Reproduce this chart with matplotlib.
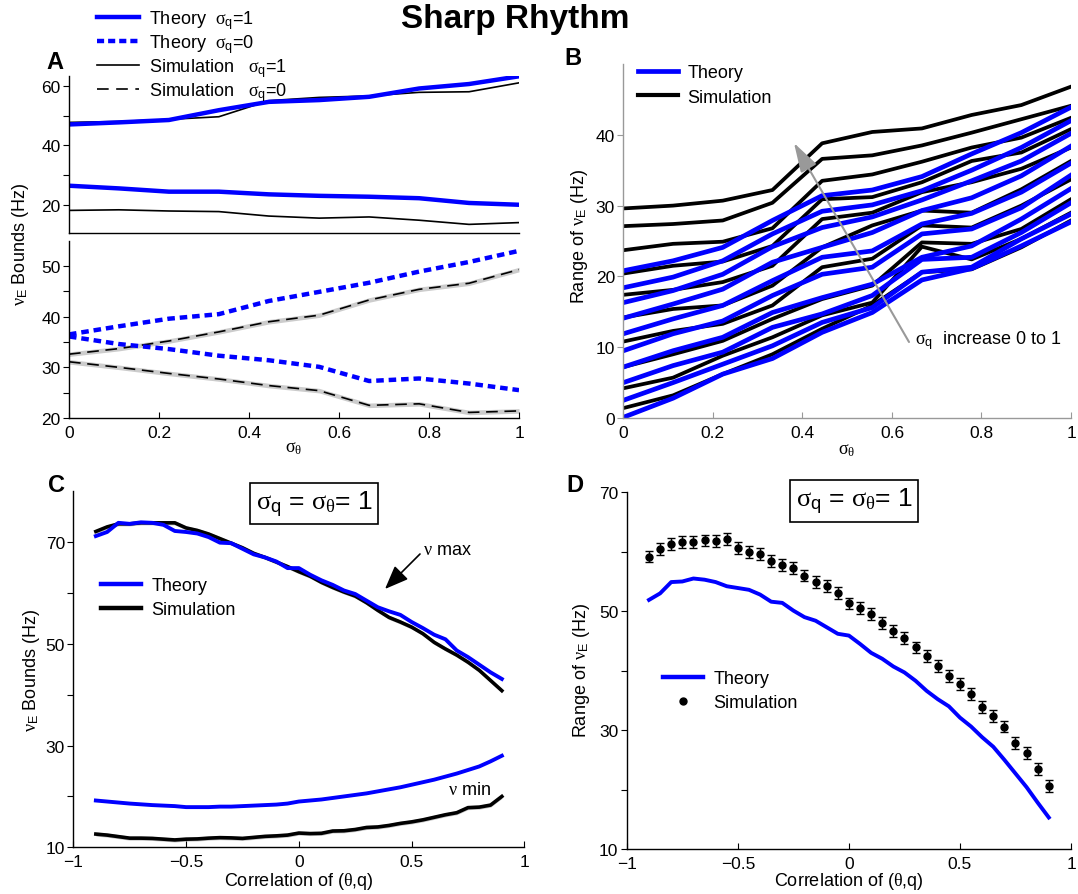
import matplotlib
matplotlib.use("Agg")
import matplotlib.pyplot as plt
import numpy as np
from matplotlib.lines import Line2D

plt.rcParams['font.family'] = 'Liberation Sans'
plt.rcParams['font.size'] = 12.5
plt.rcParams['mathtext.fontset'] = 'custom'
plt.rcParams['mathtext.rm'] = 'Liberation Sans'
plt.rcParams['mathtext.it'] = 'Liberation Serif'
plt.rcParams['mathtext.bf'] = 'Liberation Sans:bold'

W, H = 1078, 895
BLUE = '#0000ff'

# ---- panel A / B: sigma_theta grid ----
sig_theta = [0, 0.111, 0.222, 0.333, 0.444, 0.556, 0.667, 0.778, 0.889, 1.0]

a_theory1_hi = [47.0, 47.7, 48.5, 51.8, 54.6, 55.2, 56.3, 59.1, 60.6, 63.2]
a_theory1_lo = [26.4, 25.5, 24.4, 24.4, 23.5, 23.0, 22.7, 22.2, 20.6, 20.0]
a_sim1_hi = [47.7, 48.0, 48.7, 49.6, 55.0, 56.1, 56.6, 57.8, 58.0, 61.0]
a_sim1_lo = [18.1, 18.3, 17.9, 17.7, 16.2, 15.5, 15.9, 14.8, 13.4, 14.0]

a_theory0_hi = [36.5, 38.1, 39.6, 40.5, 43.1, 44.9, 46.7, 48.9, 50.8, 53.0]
a_theory0_lo = [36.1, 34.6, 33.6, 32.3, 31.4, 30.1, 27.3, 27.8, 26.8, 25.5]
a_sim0_hi = [32.6, 33.7, 35.2, 37.0, 39.0, 40.3, 43.3, 45.4, 46.6, 49.3]
a_sim0_lo = [31.1, 30.0, 28.8, 27.7, 26.4, 25.4, 22.5, 22.8, 21.1, 21.4]

# panel B: one list per sigma_theta value, curves for sigma_q = 0 ... 1 (ascending)
b_theory_cols = [
    [0.1, 2.5, 5.0, 7.2, 9.5, 11.9, 14.1, 16.3, 18.4, 20.8],
    [2.8, 5.0, 7.4, 9.5, 11.9, 14.0, 16.1, 18.0, 19.9, 22.2],
    [6.2, 7.6, 9.3, 11.4, 13.7, 15.9, 18.2, 20.3, 22.2, 24.1],
    [8.4, 10.2, 12.8, 14.9, 17.3, 19.4, 22.0, 24.2, 26.0, 27.9],
    [12.1, 13.5, 14.7, 17.0, 20.3, 22.7, 24.1, 26.9, 29.2, 31.4],
    [14.9, 15.6, 17.3, 18.9, 21.3, 23.6, 26.2, 28.4, 30.1, 32.2],
    [19.5, 20.6, 22.4, 22.7, 26.0, 27.4, 29.3, 30.8, 32.1, 34.1],
    [21.1, 21.3, 22.7, 24.3, 26.7, 28.9, 31.1, 33.5, 35.0, 37.3],
    [24.3, 25.3, 26.2, 28.1, 29.7, 31.9, 34.2, 36.3, 38.2, 40.3],
    [27.7, 28.8, 30.4, 32.4, 34.3, 36.0, 38.4, 40.2, 42.0, 43.9],
]
b_sim_cols = [
    [1.4, 4.2, 7.2, 10.8, 14.2, 17.4, 20.4, 23.7, 27.1, 29.6],
    [3.2, 5.7, 9.0, 12.3, 15.4, 18.1, 21.5, 24.6, 27.4, 30.0],
    [6.2, 8.8, 10.9, 13.3, 15.9, 19.2, 22.1, 24.9, 27.9, 30.7],
    [9.0, 11.4, 14.0, 15.9, 18.7, 21.5, 24.3, 26.8, 30.4, 32.2],
    [12.6, 14.5, 16.8, 21.3, 24.1, 28.1, 30.9, 33.5, 36.6, 38.8],
    [15.9, 16.3, 18.7, 22.5, 27.2, 29.0, 31.2, 34.4, 37.1, 40.4],
    [20.6, 24.2, 24.8, 27.2, 29.3, 31.9, 33.3, 36.2, 38.5, 40.9],
    [21.0, 22.4, 24.6, 26.9, 29.0, 33.3, 36.3, 38.2, 40.3, 42.8],
    [24.1, 25.3, 26.7, 30.0, 32.3, 35.2, 37.5, 39.6, 42.2, 44.2],
    [27.9, 29.0, 30.9, 33.7, 36.3, 38.2, 40.8, 42.4, 44.1, 46.8],
]

# ---- panel C / D: correlation grid ----
corr = [-0.9, -0.85, -0.8, -0.75, -0.7, -0.65, -0.6, -0.55, -0.5, -0.45, -0.4,
        -0.35, -0.3, -0.25, -0.2, -0.15, -0.1, -0.05, 0.0, 0.05, 0.1, 0.15,
        0.2, 0.25, 0.3, 0.35, 0.4, 0.45, 0.5, 0.55, 0.6, 0.65, 0.7, 0.75,
        0.8, 0.85, 0.9]

c_theory_max = [71.2, 72.0, 73.8, 73.6, 73.9, 73.8, 73.4, 72.2, 72.0, 71.7, 71.0,
                69.9, 69.8, 68.7, 67.6, 67.0, 66.2, 64.9, 64.9, 63.6, 62.5, 61.6,
                60.5, 59.8, 58.5, 57.2, 56.4, 55.7, 54.3, 53.1, 51.8, 50.9, 48.7,
                47.4, 45.9, 44.4, 43.1]
c_sim_max = [72.1, 73.0, 73.6, 73.6, 73.8, 73.8, 73.8, 73.8, 72.8, 72.3, 71.6,
             70.7, 69.8, 68.9, 67.8, 67.0, 66.1, 65.2, 64.2, 63.3, 62.1, 61.1,
             60.2, 59.4, 58.1, 56.6, 55.2, 54.3, 53.3, 52.0, 50.3, 49.0, 47.8,
             46.4, 44.8, 42.8, 40.8]
c_theory_min = [19.2, 19.0, 18.8, 18.6, 18.45, 18.3, 18.2, 18.1, 17.9, 17.9, 17.9,
                18.0, 18.0, 18.1, 18.2, 18.3, 18.4, 18.6, 19.0, 19.2, 19.4, 19.7,
                20.0, 20.3, 20.6, 21.0, 21.4, 21.8, 22.3, 22.8, 23.3, 23.9, 24.5,
                25.2, 25.9, 26.9, 28.0]
c_sim_min = [12.6, 12.4, 12.1, 11.8, 11.8, 11.75, 11.6, 11.45, 11.6, 11.65, 11.8,
             11.9, 11.85, 11.75, 11.95, 12.15, 12.25, 12.4, 12.8, 12.7, 12.75, 13.2,
             13.25, 13.5, 13.9, 14.0, 14.3, 14.7, 15.0, 15.4, 15.9, 16.4, 16.8,
             17.8, 17.9, 18.3, 20.0]

d_theory = [51.9, 53.0, 54.9, 55.0, 55.5, 55.3, 54.9, 54.2, 53.9, 53.6, 52.8,
            51.6, 51.4, 50.1, 49.0, 48.4, 47.3, 46.2, 45.9, 44.5, 43.0, 42.0,
            40.7, 39.7, 38.3, 36.6, 35.2, 34.0, 32.1, 30.6, 28.8, 27.2, 25.0,
            22.7, 20.4, 17.8, 15.3]
d_sim = [59.2, 60.5, 61.3, 61.7, 61.6, 61.9, 61.8, 62.1, 60.7, 59.9, 59.6,
         58.4, 57.7, 57.2, 56.0, 54.9, 54.2, 53.0, 51.3, 50.5, 49.5, 48.0,
         46.6, 45.5, 43.9, 42.5, 40.8, 39.1, 37.8, 36.0, 33.9, 32.3, 30.6,
         27.8, 26.1, 23.4, 20.6]
d_sim_err = 1.0


def rect(l, t, r, b):
    return [l / W, 1 - b / H, (r - l) / W, (b - t) / H]


def fp(x, y):
    return (x / W, 1 - y / H)


def style(ax, color='black'):
    for s in ['top', 'right']:
        ax.spines[s].set_visible(False)
    for s in ['left', 'bottom']:
        ax.spines[s].set_color(color)
        ax.spines[s].set_linewidth(1.0)
    ax.tick_params(axis='y', direction='out', length=4, width=0.8, pad=2)
    ax.tick_params(axis='x', direction='in', length=4, width=0.8, pad=5)
    ax.tick_params(axis='both', color=color, labelcolor='black')


fig = plt.figure(figsize=(W / 100, H / 100), dpi=100)

st_ticks = [0, 0.2, 0.4, 0.6, 0.8, 1]
st_labels = ['0', '0.2', '0.4', '0.6', '0.8', '1']

# ---------------- A ----------------
axA1 = fig.add_axes(rect(69, 76.7, 519, 234.3))
axA2 = fig.add_axes(rect(69, 241.7, 519, 419))
for ax in (axA1, axA2):
    style(ax)
    ax.set_xlim(0, 1)

axA1.plot(sig_theta, a_sim1_hi, color='k', lw=1.2)
axA1.plot(sig_theta, a_sim1_lo, color='k', lw=1.2)
axA1.plot(sig_theta, a_theory1_hi, color=BLUE, lw=3.2)
axA1.plot(sig_theta, a_theory1_lo, color=BLUE, lw=3.2)
axA1.set_ylim(10.4, 63.4)
axA1.set_yticks([20, 30, 40, 50, 60])
axA1.set_yticklabels(['20', '', '40', '', '60'])
axA1.tick_params(axis='x', bottom=False, labelbottom=False)

for ys in (a_sim0_hi, a_sim0_lo):
    axA2.fill_between(sig_theta, np.array(ys) - 0.45, np.array(ys) + 0.45,
                      color='0.8', lw=0)
    axA2.plot(sig_theta, ys, color='k', lw=1.2, ls=(0, (7, 4)))
axA2.plot(sig_theta, a_theory0_hi, color=BLUE, lw=3.2, ls=(0, (1.7, 1.1)))
axA2.plot(sig_theta, a_theory0_lo, color=BLUE, lw=3.2, ls=(0, (1.7, 1.1)))
axA2.set_ylim(20, 55)
axA2.set_yticks([20, 25, 30, 35, 40, 45, 50])
axA2.set_yticklabels(['20', '', '30', '', '40', '', '50'])
axA2.set_xticks(st_ticks)
axA2.set_xticklabels(st_labels)

legA = [
    (Line2D([], [], color=BLUE, lw=3.2), r'Theory  $\sigma_\mathrm{q}$=1'),
    (Line2D([], [], color=BLUE, lw=3.2, ls=(0, (1.6, 0.9))), r'Theory  $\sigma_\mathrm{q}$=0'),
    (Line2D([], [], color='k', lw=1.2), r'Simulation   $\sigma_\mathrm{q}$=1'),
    (Line2D([], [], color='k', lw=1.2, ls=(0, (7, 4.5))), r'Simulation   $\sigma_\mathrm{q}$=0'),
]
fig.legend([h for h, _ in legA], [l for _, l in legA], loc='upper left',
           bbox_to_anchor=fp(97, 9), bbox_transform=fig.transFigure,
           frameon=False, fontsize=13, handlelength=2.3, handletextpad=0.6,
           labelspacing=0.06, borderpad=0, borderaxespad=0)

fig.text(*fp(21, 245), r'$\nu_\mathrm{E}$ Bounds (Hz)', rotation=90,
         ha='center', va='center', fontsize=13)
fig.text(*fp(294, 449), r'$\sigma_\theta$', ha='center', va='center', fontsize=13)

# ---------------- B ----------------
axB = fig.add_axes(rect(623.4, 65, 1071, 419))
style(axB, color='0.6')
b_theory = np.array(b_theory_cols).T
b_sim = np.array(b_sim_cols).T
for row in b_sim:
    axB.plot(sig_theta, row, color='k', lw=2.7)
for row in b_theory:
    axB.plot(sig_theta, row, color=BLUE, lw=3.4)
axB.set_xlim(0, 1)
axB.set_ylim(0, 50)
axB.set_yticks([0, 10, 20, 30, 40])
axB.set_xticks(st_ticks)
axB.set_xticklabels(st_labels)
axB.legend([Line2D([], [], color=BLUE, lw=3.4), Line2D([], [], color='k', lw=3.0)],
           ['Theory', 'Simulation'], loc='upper left',
           bbox_to_anchor=fp(638, 65), bbox_transform=fig.transFigure,
           frameon=False, fontsize=13, handlelength=2.2, handletextpad=0.55,
           labelspacing=0.42, borderpad=0, borderaxespad=0)
axB.annotate('', xy=fp(794, 144), xycoords='figure fraction',
             xytext=fp(909, 343), textcoords='figure fraction',
             arrowprops=dict(arrowstyle='-|>,head_length=1.8,head_width=0.55',
                             mutation_scale=10, color='#999999', lw=1.5,
                             shrinkA=0, shrinkB=0))
fig.text(*fp(915, 341), r'$\sigma_\mathrm{q}$  increase 0 to 1', ha='left',
         va='center', fontsize=13)
fig.text(*fp(580, 237), r'Range of $\nu_\mathrm{E}$ (Hz)', rotation=90,
         ha='center', va='center', fontsize=13)
fig.text(*fp(847, 451), r'$\sigma_\theta$', ha='center', va='center', fontsize=13)

# ---------------- C ----------------
axC = fig.add_axes(rect(73.3, 492.3, 524.4, 848.3))
style(axC)
for ys in (c_sim_max, c_sim_min):
    axC.fill_between(corr, np.array(ys) - 0.4, np.array(ys) + 0.4, color='0.78', lw=0)
    axC.plot(corr, ys, color='k', lw=2.6)
axC.plot(corr, c_theory_max, color=BLUE, lw=2.8)
axC.plot(corr, c_theory_min, color=BLUE, lw=2.8)
axC.set_xlim(-1, 1)
axC.set_ylim(10, 80)
axC.set_yticks([10, 20, 30, 40, 50, 60, 70])
axC.set_yticklabels(['10', '', '30', '', '50', '', '70'])
axC.set_xticks([-1, -0.5, 0, 0.5, 1])
axC.set_xticklabels(['\u22121', '\u22120.5', '0', '0.5', '1'])
axC.legend([Line2D([], [], color=BLUE, lw=3.2), Line2D([], [], color='k', lw=3.2)],
           ['Theory', 'Simulation'], loc='upper left',
           bbox_to_anchor=fp(101, 578), bbox_transform=fig.transFigure,
           frameon=False, fontsize=13, handlelength=2.2, handletextpad=0.6,
           labelspacing=0.38, borderpad=0, borderaxespad=0)
fig.text(*fp(314, 504.5), r'$\sigma_\mathrm{q}$ = $\sigma_\theta$= 1', ha='center',
         va='center', fontsize=19,
         bbox=dict(boxstyle='square,pad=0.22', fc='white', ec='black', lw=1.2))
axC.annotate('', xy=fp(385, 590), xycoords='figure fraction',
             xytext=fp(420, 555), textcoords='figure fraction',
             arrowprops=dict(arrowstyle='-|>,head_length=1.45,head_width=0.58',
                             mutation_scale=10, color='k', lw=1.2,
                             shrinkA=0, shrinkB=0))
fig.text(*fp(423, 551), r'$\nu$ max', ha='left', va='center', fontsize=13)
fig.text(*fp(448, 791), r'$\nu$ min', ha='left', va='center', fontsize=13)
fig.text(*fp(31, 671), r'$\nu_\mathrm{E}$ Bounds (Hz)', rotation=90,
         ha='center', va='center', fontsize=13)
fig.text(*fp(299, 882), r'Correlation of ($\theta$,q)', ha='center', va='center',
         fontsize=13)

# ---------------- D ----------------
axD = fig.add_axes(rect(626.8, 493.3, 1071, 850))
style(axD)
axD.plot(corr, d_theory, color=BLUE, lw=2.8)
axD.errorbar(corr, d_sim, yerr=d_sim_err, fmt='o', color='k', ms=5,
             capsize=3, elinewidth=1, capthick=1)
axD.set_xlim(-1, 1)
axD.set_ylim(10, 70)
axD.set_yticks([10, 20, 30, 40, 50, 60, 70])
axD.set_yticklabels(['10', '', '30', '', '50', '', '70'])
axD.set_xticks([-1, -0.5, 0, 0.5, 1])
axD.set_xticklabels(['\u22121', '\u22120.5', '0', '0.5', '1'])
axD.legend([Line2D([], [], color=BLUE, lw=3.2),
            Line2D([], [], color='k', ls='none', marker='o', ms=5)],
           ['Theory', 'Simulation'], loc='upper left',
           bbox_to_anchor=fp(663, 671), bbox_transform=fig.transFigure,
           frameon=False, fontsize=13, handlelength=2.2, handletextpad=0.6,
           labelspacing=0.38, borderpad=0, borderaxespad=0)
fig.text(*fp(854, 502), r'$\sigma_\mathrm{q}$ = $\sigma_\theta$= 1', ha='center',
         va='center', fontsize=19,
         bbox=dict(boxstyle='square,pad=0.22', fc='white', ec='black', lw=1.2))
fig.text(*fp(581, 671), r'Range of $\nu_\mathrm{E}$ (Hz)', rotation=90,
         ha='center', va='center', fontsize=13)
fig.text(*fp(849, 882), r'Correlation of ($\theta$,q)', ha='center', va='center',
         fontsize=13)

# ---------------- titles / letters ----------------
fig.text(*fp(515, 19.5), 'Sharp Rhythm', ha='center', va='center', fontsize=24,
         fontweight='bold')
for letter, (x, y) in zip('ABCD', [(55, 62.7), (573, 58.7), (56, 486), (575, 486)]):
    fig.text(*fp(x, y), letter, ha='center', va='center', fontsize=17,
             fontweight='bold')

fig.savefig('out.png', dpi=100)
